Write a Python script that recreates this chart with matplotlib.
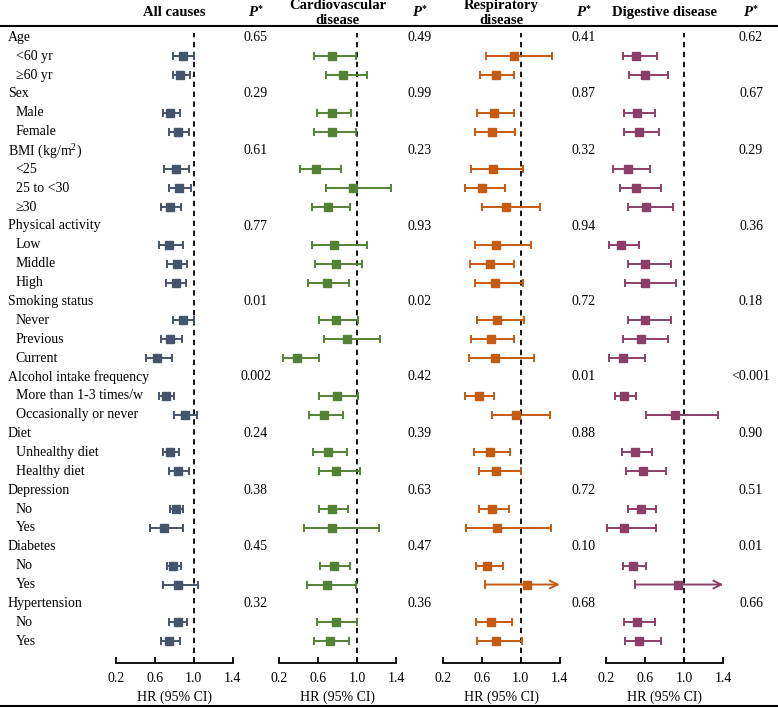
import matplotlib
matplotlib.use("Agg")
import matplotlib.pyplot as plt
import numpy as np

plt.rcParams['font.family'] = ['Liberation Serif', 'DejaVu Serif']
plt.rcParams['mathtext.fontset'] = 'custom'
plt.rcParams['mathtext.rm'] = 'Liberation Serif'

# ---------------- data ----------------
labels = ["Age", "<60 yr", "\u226560 yr",
          "Sex", "Male", "Female",
          "BMI (kg/m$^2$)", "<25", "25 to <30", "\u226530",
          "Physical activity", "Low", "Middle", "High",
          "Smoking status", "Never", "Previous", "Current",
          "Alcohol intake frequency", "More than 1-3 times/w", "Occasionally or never",
          "Diet", "Unhealthy diet", "Healthy diet",
          "Depression", "No", "Yes",
          "Diabetes", "No", "Yes",
          "Hypertension", "No", "Yes"]
is_header = [1, 0, 0, 1, 0, 0, 1, 0, 0, 0, 1, 0, 0, 0, 1, 0, 0, 0,
             1, 0, 0, 1, 0, 0, 1, 0, 0, 1, 0, 0, 1, 0, 0]

panel_titles = ["All causes", "Cardiovascular\ndisease", "Respiratory\ndisease", "Digestive disease"]
colors = ["#44546A", "#548235", "#C55A11", "#8B3F67"]

nan = np.nan
# HR, lower, upper for subgroup rows (nan for header rows)
all_hr = [nan, 0.89, 0.86, nan, 0.76, 0.84, nan, 0.815, 0.85, 0.76, nan, 0.75, 0.83, 0.815,
          nan, 0.89, 0.76, 0.62, nan, 0.71, 0.91, nan, 0.76, 0.84, nan, 0.815, 0.69,
          nan, 0.79, 0.84, nan, 0.84, 0.75]
all_lo = [nan, 0.79, 0.79, nan, 0.68, 0.75, nan, 0.69, 0.74, 0.665, nan, 0.64, 0.72, 0.71,
          nan, 0.79, 0.66, 0.51, nan, 0.64, 0.80, nan, 0.68, 0.75, nan, 0.76, 0.55,
          nan, 0.72, 0.68, nan, 0.75, 0.66]
all_hi = [nan, 1.00, 0.96, nan, 0.86, 0.95, nan, 0.95, 0.97, 0.87, nan, 0.89, 0.93, 0.92,
          nan, 1.00, 0.88, 0.78, nan, 0.80, 1.03, nan, 0.85, 0.955, nan, 0.89, 0.89,
          nan, 0.87, 1.04, nan, 0.93, 0.86]

cvd_hr = [nan, 0.74, 0.86, nan, 0.74, 0.74, nan, 0.58, 0.96, 0.70, nan, 0.76, 0.78, 0.69,
          nan, 0.78, 0.90, 0.38, nan, 0.79, 0.66, nan, 0.70, 0.78, nan, 0.74, 0.74,
          nan, 0.76, 0.69, nan, 0.78, 0.72]
cvd_lo = [nan, 0.56, 0.68, nan, 0.59, 0.56, nan, 0.41, 0.68, 0.54, nan, 0.54, 0.57, 0.50,
          nan, 0.61, 0.66, 0.24, nan, 0.61, 0.51, nan, 0.55, 0.61, nan, 0.61, 0.45,
          nan, 0.62, 0.48, nan, 0.59, 0.56]
cvd_hi = [nan, 0.99, 1.10, nan, 0.94, 0.99, nan, 0.83, 1.35, 0.925, nan, 1.10, 1.05, 0.915,
          nan, 1.01, 1.24, 0.61, nan, 1.01, 0.85, nan, 0.90, 1.03, nan, 0.91, 1.23,
          nan, 0.93, 0.99, nan, 1.00, 0.92]

resp_hr = [nan, 0.925, 0.74, nan, 0.72, 0.70, nan, 0.71, 0.60, 0.85, nan, 0.75, 0.68, 0.73,
           nan, 0.76, 0.69, 0.73, nan, 0.57, 0.95, nan, 0.68, 0.75, nan, 0.70, 0.76,
           nan, 0.65, 1.06, nan, 0.69, 0.74]
resp_lo = [nan, 0.64, 0.58, nan, 0.545, 0.525, nan, 0.49, 0.43, 0.60, nan, 0.525, 0.48, 0.525,
           nan, 0.55, 0.49, 0.47, nan, 0.43, 0.70, nan, 0.515, 0.57, nan, 0.57, 0.44,
           nan, 0.535, 0.635, nan, 0.535, 0.55]
resp_hi = [nan, 1.32, 0.935, nan, 0.935, 0.945, nan, 1.02, 0.835, 1.195, nan, 1.10, 0.935, 1.025,
           nan, 1.035, 0.935, 1.135, nan, 0.72, 1.30, nan, 0.885, 1.00, nan, 0.875, 1.315,
           nan, 0.815, 1.75, nan, 0.905, 1.015]

dig_hr = [nan, 0.51, 0.60, nan, 0.52, 0.54, nan, 0.42, 0.51, 0.61, nan, 0.355, 0.60, 0.60,
          nan, 0.60, 0.555, 0.37, nan, 0.38, 0.905, nan, 0.50, 0.575, nan, 0.555, 0.38,
          nan, 0.475, 0.935, nan, 0.52, 0.54]
dig_lo = [nan, 0.37, 0.44, nan, 0.38, 0.38, nan, 0.27, 0.34, 0.43, nan, 0.23, 0.42, 0.39,
          nan, 0.42, 0.37, 0.23, nan, 0.29, 0.61, nan, 0.36, 0.40, nan, 0.43, 0.21,
          nan, 0.37, 0.50, nan, 0.38, 0.39]
dig_hi = [nan, 0.72, 0.83, nan, 0.70, 0.74, nan, 0.655, 0.76, 0.89, nan, 0.535, 0.87, 0.92,
          nan, 0.86, 0.83, 0.60, nan, 0.51, 1.35, nan, 0.67, 0.815, nan, 0.71, 0.71,
          nan, 0.61, 1.85, nan, 0.70, 0.76]

p_all = ["0.65", "0.29", "0.61", "0.77", "0.01", "0.002", "0.24", "0.38", "0.45", "0.32"]
p_cvd = ["0.49", "0.99", "0.23", "0.93", "0.02", "0.42", "0.39", "0.63", "0.47", "0.36"]
p_resp = ["0.41", "0.87", "0.32", "0.94", "0.72", "0.01", "0.88", "0.72", "0.10", "0.68"]
p_dig = ["0.62", "0.67", "0.29", "0.36", "0.18", "<0.001", "0.90", "0.51", "0.01", "0.66"]

xticks = [0.2, 0.6, 1.0, 1.4]

# ---------------- layout ----------------
W, H = 778, 708
fig = plt.figure(figsize=(W / 100, H / 100), dpi=100)

def fx(px):
    return px / W

def fy(py):
    return 1 - py / H

row0, dy = 37.3, 18.87
nrows = len(labels)
top_px, bot_px = 28.0, 662.5
panel_x = [(116.0, 232.7), (279.3, 396.0), (443.0, 559.7), (606.0, 723.3)]
pcol_x = [256, 420, 584, 751]
fs = 10

series = [(all_hr, all_lo, all_hi), (cvd_hr, cvd_lo, cvd_hi),
          (resp_hr, resp_lo, resp_hi), (dig_hr, dig_lo, dig_hi)]
pvals = [p_all, p_cvd, p_resp, p_dig]

header_rows = [i for i, h in enumerate(is_header) if h]

for k, ((x0, x1), (hr, lo, hi)) in enumerate(zip(panel_x, series)):
    ax = fig.add_axes([fx(x0), fy(bot_px), fx(x1) - fx(x0), (bot_px - top_px) / H])
    ax.set_xlim(0.2, 1.4)
    ax.set_ylim((bot_px - row0) / dy, (top_px - row0) / dy)
    ax.patch.set_alpha(0)
    for s in ["top", "right", "left"]:
        ax.spines[s].set_visible(False)
    ax.spines["bottom"].set_linewidth(1.3)
    ax.set_yticks([])
    ax.set_xticks(xticks)
    ax.set_xticklabels([f"{t:.1f}" for t in xticks], fontsize=fs)
    ax.tick_params(axis="x", direction="in", length=4, width=1.3, pad=7)
    ax.set_xlabel("HR (95% CI)", fontsize=fs, labelpad=4)
    ax.axvline(1.0, ymin=0, ymax=(bot_px - 33) / (bot_px - top_px),
               color="black", ls=(0, (3, 2.5)), lw=1.3)
    c = colors[k]
    for i in range(nrows):
        if np.isnan(hr[i]):
            continue
        if hi[i] > 1.4:
            ax.annotate("", xy=(1.4, i), xytext=(lo[i], i),
                        arrowprops=dict(arrowstyle="->", color=c, lw=1.4,
                                        shrinkA=0, shrinkB=0, mutation_scale=14))
            ax.plot([lo[i], lo[i]], [i - 0.18, i + 0.18], color=c, lw=1.4)
            ax.plot(hr[i], i, marker="s", ms=6, color=c, mec=c)
        else:
            ax.errorbar(hr[i], i, xerr=[[hr[i] - lo[i]], [hi[i] - hr[i]]],
                        fmt="s", ms=6, color=c, ecolor=c, elinewidth=1.4,
                        capsize=3, capthick=1.4)
    # panel title
    tlines = panel_titles[k].split("\n")
    if len(tlines) == 1:
        ty = [12.5]
    else:
        ty = [5.5, 20.0]
    for t, yy in zip(tlines, ty):
        fig.text(fx((x0 + x1) / 2), fy(yy), t, ha="center", va="center",
                 fontsize=fs + 0.5, fontweight="bold")
    # P header & values
    fig.text(fx(pcol_x[k] + 1), fy(13), "P", ha="right", va="center",
             fontsize=fs + 0.5, fontweight="bold", fontstyle="italic")
    fig.text(fx(pcol_x[k] + 1.5), fy(9), "*", ha="left", va="center", fontsize=7,
             fontweight="bold")
    for j, r in enumerate(header_rows):
        fig.text(fx(pcol_x[k]), fy(row0 + r * dy), pvals[k][j], ha="center", va="center",
                 fontsize=fs)

# row labels
for i, (lab, h) in enumerate(zip(labels, is_header)):
    fig.text(fx(8 if h else 15.5), fy(row0 + i * dy), lab, ha="left", va="center",
             fontsize=fs)

# horizontal rules
fig.add_artist(plt.Line2D([0, 1], [fy(26), fy(26)], color="black", lw=1.5))
fig.add_artist(plt.Line2D([0, 1], [fy(706), fy(706)], color="black", lw=1.5))

fig.savefig("out.png", dpi=100)
